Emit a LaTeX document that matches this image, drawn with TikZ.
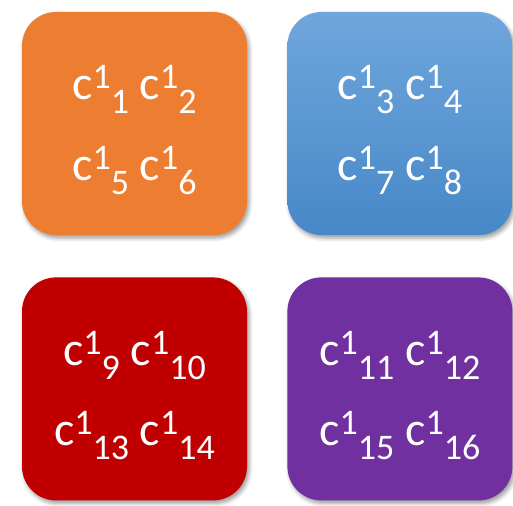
\documentclass[tikz,border=0pt]{standalone}
\usepackage{fontspec}
\setmainfont{Carlito}
\usepackage{xcolor}
\usetikzlibrary{positioning, shadows.blur}

\definecolor{tileorange}{HTML}{ED7D31}
\definecolor{tilebluetop}{HTML}{6FA6DC}
\definecolor{tilebluebot}{HTML}{4788C8}
\definecolor{tilered}{HTML}{C00000}
\definecolor{tilepurple}{HTML}{7030A0}

% one term: c with superscript 1 and a trailing subscript index
\newcommand{\cterm}[1]{{\fontsize{48}{48}\selectfont c}\raisebox{11pt}{\fontsize{36}{36}\selectfont 1}\raisebox{-14pt}{\fontsize{36}{36}\selectfont #1}}

\begin{document}
\begin{tikzpicture}[
  x=1pt, y=1pt,
  tile/.style={rounded corners=34pt, minimum width=225pt, minimum height=223pt, inner sep=0pt,
    blur shadow={shadow xshift=2pt, shadow yshift=-3pt, shadow blur radius=4pt}},
  lbl/.style={text=white, inner sep=0pt, anchor=base, font=\fontsize{48}{48}\selectfont},
  node distance=40pt
]
\useasboundingbox (0,0) rectangle (513,-505);

\node[tile, fill=tileorange] (orange) at (134.5,-123.5) {};
\node[tile, top color=tilebluetop, bottom color=tilebluebot, right=of orange] (blue) {};
\node[tile, fill=tilered, below=42pt of orange] (red) {};
\node[tile, fill=tilepurple, right=of red] (purple) {};

% terms in each tile
\node[lbl] (o1) at ([yshift=23.5pt]orange.center) {\cterm{1} \cterm{2}};
\node[lbl] (o2) at ([yshift=-56.5pt]orange.center) {\cterm{5} \cterm{6}};
\node[lbl] (b1) at ([yshift=23.5pt]blue.center) {\cterm{3} \cterm{4}};
\node[lbl] (b2) at ([yshift=-56.5pt]blue.center) {\cterm{7} \cterm{8}};
\node[lbl] (r1) at ([yshift=23.5pt]red.center) {\cterm{9} \cterm{10}};
\node[lbl] (r2) at ([yshift=-56.5pt]red.center) {\cterm{13} \cterm{14}};
\node[lbl] (p1) at ([yshift=23.5pt]purple.center) {\cterm{11} \cterm{12}};
\node[lbl] (p2) at ([yshift=-56.5pt]purple.center) {\cterm{15} \cterm{16}};

\end{tikzpicture}
\end{document}
